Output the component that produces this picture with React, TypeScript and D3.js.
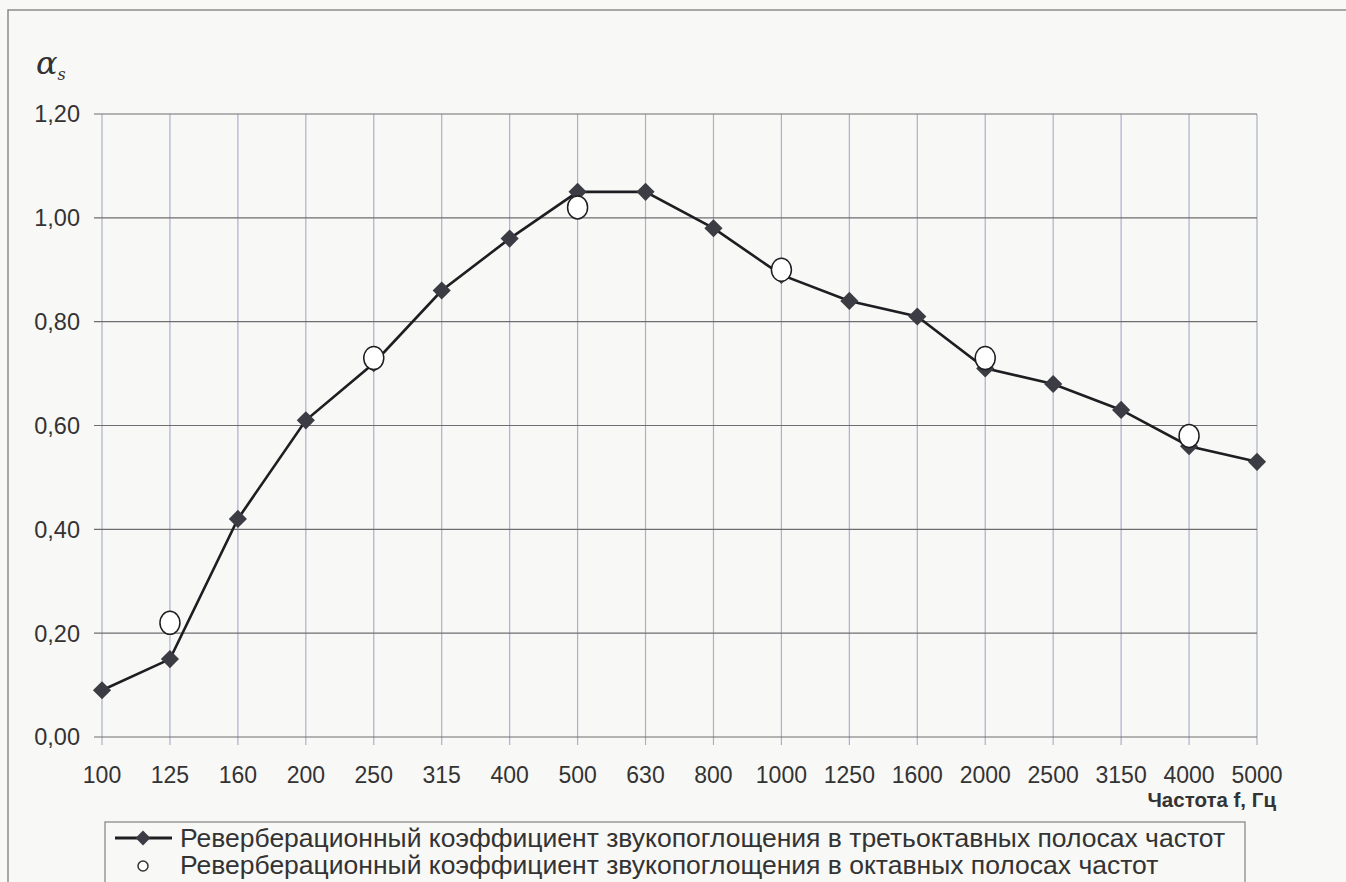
import React from "react";
import * as d3 from "d3";

// частоты, Гц
const frequencies = [
  "100", "125", "160", "200", "250", "315", "400", "500", "630",
  "800", "1000", "1250", "1600", "2000", "2500", "3150", "4000", "5000",
];

// третьоктавные полосы
const thirdOctaveValues = [
  0.09, 0.15, 0.42, 0.61, 0.72, 0.86, 0.96, 1.05, 1.05,
  0.98, 0.89, 0.84, 0.81, 0.71, 0.68, 0.63, 0.56, 0.53,
];

// октавные полосы
const octaveBands = ["125", "250", "500", "1000", "2000", "4000"];
const octaveValues = [0.22, 0.73, 1.02, 0.9, 0.73, 0.58];

const yTicks = [0, 0.2, 0.4, 0.6, 0.8, 1.0, 1.2];

const legendLabels = [
  "Реверберационный коэффициент звукопоглощения в третьоктавных полосах частот",
  "Реверберационный коэффициент звукопоглощения в октавных полосах частот",
];

const W = 1346;
const H = 882;
const FONT = "'Liberation Sans', Arial, sans-serif";

export default function App() {
  const x = d3.scalePoint<string>().domain(frequencies).range([102, 1257]);
  const y = d3.scaleLinear().domain([0, 1.2]).range([737, 114]);

  const line = d3
    .line<number>()
    .x((_, i) => x(frequencies[i])!)
    .y((d) => y(d));

  // square turned 45deg, like the Excel diamond marker
  const marker = d3.symbol().type(d3.symbolSquare).size(165)() ?? "";
  const legendMarker = d3.symbol().type(d3.symbolSquare).size(110)() ?? "";
  const fmt = (v: number) => v.toFixed(2).replace(".", ",");

  return (
    <svg
      width={W}
      height={H}
      style={{ position: "absolute", left: 0, top: 0, background: "#f8f8f6" }}
      fontFamily={FONT}
    >
      {/* outer frame */}
      <rect x={8} y={10} width={W + 20} height={H + 20} fill="none" stroke="#8a8a8a" strokeWidth={1.5} />

      {/* vertical grid */}
      {frequencies.map((f) => (
        <line key={f} x1={x(f)} x2={x(f)} y1={y(1.2)} y2={745} stroke="#aab0cc" strokeWidth={1.2} />
      ))}
      {/* horizontal grid */}
      {yTicks.map((t) => (
        <line key={t} x1={94} x2={1257} y1={y(t)} y2={y(t)} stroke="#6e6e72" strokeWidth={1.2} />
      ))}

      {/* y ticks */}
      {yTicks.map((t) => (
        <text key={t} x={80} y={y(t)} dy="0.36em" textAnchor="end" fontSize={23.5} fill="#333">
          {fmt(t)}
        </text>
      ))}
      {/* x ticks */}
      {frequencies.map((f) => (
        <text key={f} x={x(f)} y={783} textAnchor="middle" fontSize={23} fill="#333">
          {f}
        </text>
      ))}

      {/* axis titles */}
      <text x={36} y={74} fontSize={32} fontStyle="italic" fontFamily="'DejaVu Serif', serif" fill="#333">
        α<tspan fontSize={16} dy={6}>s</tspan>
      </text>
      <text x={1276} y={807} textAnchor="end" fontSize={20.5} fontWeight="bold" fill="#333">
        Частота f, Гц
      </text>

      {/* third-octave series */}
      <path d={line(thirdOctaveValues) ?? ""} fill="none" stroke="#1e1e22" strokeWidth={2.6} />
      {thirdOctaveValues.map((v, i) => (
        <path
          key={i}
          d={marker}
          transform={`translate(${x(frequencies[i])},${y(v)}) rotate(45)`}
          fill="#3c3c44"
        />
      ))}

      {/* octave series */}
      {octaveValues.map((v, i) => (
        <ellipse
          key={i}
          cx={x(octaveBands[i])}
          cy={y(v)}
          rx={10}
          ry={11.5}
          fill="#fff"
          stroke="#1e1e22"
          strokeWidth={1.5}
        />
      ))}

      {/* legend */}
      <rect x={105} y={822} width={1140} height={80} fill="none" stroke="#8a8a8a" strokeWidth={1.3} />
      <line x1={115} x2={172} y1={838} y2={838} stroke="#1e1e22" strokeWidth={3} />
      <path d={legendMarker} transform="translate(143,838) rotate(45)" fill="#3c3c44" />
      <circle cx={143} cy={866} r={5} fill="#fff" stroke="#333" strokeWidth={1.5} />
      {legendLabels.map((l, i) => (
        <text key={i} x={180} y={847 + i * 27} fontSize={26.5} fill="#333">
          {l}
        </text>
      ))}
    </svg>
  );
}
